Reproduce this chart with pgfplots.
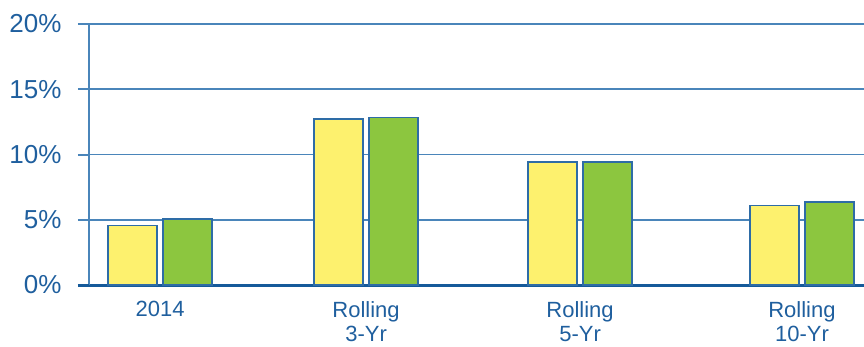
\documentclass[border=0pt]{standalone}
\usepackage{pgfplots}
\pgfplotsset{compat=1.18}
\usepackage{fontspec}
\setmainfont{Liberation Sans}
\definecolor{txtblue}{HTML}{1F5F9E}
\definecolor{gridblue}{HTML}{4A85BA}
\definecolor{axblue}{HTML}{155A9A}
\definecolor{baryellow}{HTML}{FDF16E}
\definecolor{bargreen}{HTML}{8CC63F}
\definecolor{barline}{HTML}{2E6CA6}
\begin{document}
\begin{tikzpicture}
\begin{axis}[
  scale only axis, width=775pt, height=261pt,
  xmin=-0.332, xmax=3.29, ymin=0, ymax=20,
  ybar=6pt, bar width=49pt,
  clip=false,
  axis x line*=bottom, axis y line*=left,
  axis line style={-},
  x axis line style={axblue, line width=3pt},
  y axis line style={gridblue, line width=1.3pt},
  ytick={0,5,10,15,20}, yticklabels={0\%,5\%,10\%,15\%,20\%},
  ymajorgrids, grid style={gridblue, line width=1.8pt},
  major tick length=0pt,
  ytick style={draw=none},
  xtick={0,0.963,1.963,3.0},
  xticklabels={2014, Rolling\\3-Yr, Rolling\\5-Yr, Rolling\\10-Yr},
  xtick style={draw=none},
  xticklabel style={align=center, font=\fontsize{22}{24}\selectfont, text=txtblue, yshift=-13pt},
  yticklabel style={font=\fontsize{26}{28}\selectfont, text=txtblue, xshift=-24pt},
]
\addplot[fill=baryellow, draw=barline, line width=1.3pt] coordinates {(0,4.55) (0.963,12.72) (1.963,9.42) (3.0,6.08)};
\addplot[fill=bargreen, draw=barline, line width=1.3pt] coordinates {(0,5.06) (0.963,12.83) (1.963,9.42) (3.0,6.36)};
\draw[gridblue, line width=2pt] ([xshift=-11pt]rel axis cs:0,0.25) -- (rel axis cs:0,0.25);
\draw[gridblue, line width=2pt] ([xshift=-11pt]rel axis cs:0,0.5) -- (rel axis cs:0,0.5);
\draw[gridblue, line width=2pt] ([xshift=-11pt]rel axis cs:0,0.75) -- (rel axis cs:0,0.75);
\draw[gridblue, line width=2pt] ([xshift=-11pt]rel axis cs:0,1) -- (rel axis cs:0,1);
\draw[axblue, line width=3pt] ([xshift=-11pt]rel axis cs:0,0) -- (rel axis cs:0,0);
\end{axis}
\pgfresetboundingbox
\useasboundingbox ([xshift=-89pt, yshift=-61pt]current axis.south west) rectangle ([yshift=24pt]current axis.north east);
\end{tikzpicture}
\end{document}
